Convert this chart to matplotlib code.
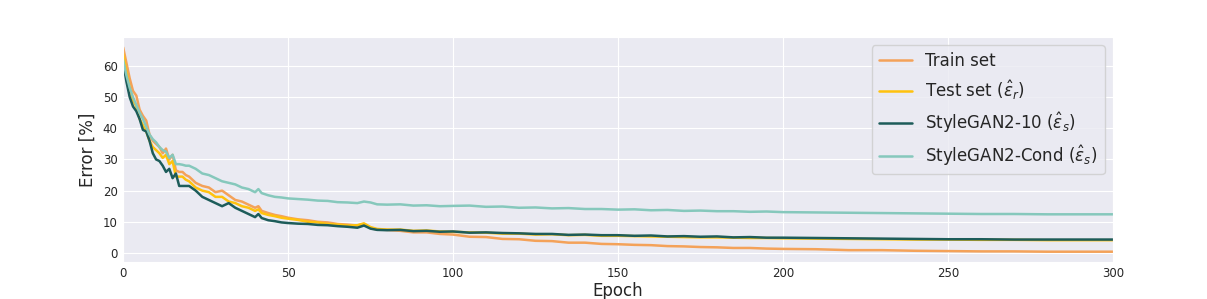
import matplotlib
matplotlib.use('Agg')
import matplotlib.pyplot as plt
import seaborn as sns

epochs = [0, 1, 2, 3, 4, 5, 6, 7, 8, 9, 10, 11, 12, 13, 14, 15, 16, 17, 18, 19, 20,
          22, 24, 26, 28, 30, 32, 34, 36, 38, 40, 41, 42, 44, 46, 48, 50,
          53, 56, 59, 62, 65, 68, 71, 73, 75, 77, 80,
          84, 88, 92, 96, 100,
          105, 110, 115, 120, 125, 130, 135, 140, 145, 150, 155, 160, 165, 170, 175,
          180, 185, 190, 195, 200,
          210, 220, 230, 240, 250, 260, 270, 280, 290, 300]

train_err = [66, 61, 56, 52, 50.5, 46, 44, 42.5, 38, 36, 35, 34, 32, 33.5, 30, 31.5, 26.5, 26, 26, 25, 24.5,
             22.5, 21.5, 21, 19.5, 20, 18.5, 17, 16.5, 15.5, 14.5, 15, 13.5, 12.8, 12.2, 11.8, 11.3,
             10.8, 10.5, 10, 9.8, 9.3, 9.1, 8.8, 9.3, 8, 7.5, 7.4,
             7.1, 6.6, 6.6, 6.1, 5.9,
             5.2, 5.1, 4.5, 4.4, 3.9, 3.8, 3.3, 3.3, 2.9, 2.8, 2.6, 2.5, 2.2, 2.1, 1.9,
             1.8, 1.6, 1.6, 1.4, 1.3,
             1.2, 0.9, 0.9, 0.7, 0.6, 0.5, 0.5, 0.4, 0.4, 0.4]

test_err = [64, 58, 53, 49, 47, 43, 41, 39, 36, 34, 33, 32, 30.5, 31.5, 28.5, 29.5, 24.5, 24.5, 24.5, 23.5, 23,
            21, 20, 19.5, 18, 18, 16.5, 16, 15, 14.5, 13.5, 14, 12.8, 12.2, 11.8, 11.3, 11.0,
            10.6, 10.0, 9.8, 9.3, 9.1, 8.8, 8.9, 9.5, 8.3, 7.7, 7.5,
            7.5, 7.1, 7.2, 6.9, 6.8,
            6.6, 6.5, 6.2, 6.2, 5.9, 6.0, 5.7, 5.8, 5.5, 5.5, 5.4, 5.3, 5.2, 5.1, 5.0,
            5.0, 4.9, 4.8, 4.8, 4.7,
            4.6, 4.5, 4.4, 4.3, 4.3, 4.2, 4.2, 4.1, 4.1, 4.1]

sg10_err = [61, 55, 50, 47, 45.5, 43, 39.5, 39, 36, 32, 30, 29.5, 28, 26, 27, 24, 25.5, 21.5, 21.5, 21.5, 21.5,
            20, 18, 17, 16, 15, 16, 14.5, 13.5, 12.5, 11.5, 12.5, 11.2, 10.5, 10.2, 9.8, 9.6,
            9.4, 9.3, 9.0, 8.9, 8.6, 8.4, 8.1, 8.8, 7.8, 7.4, 7.3,
            7.4, 7.0, 7.1, 6.8, 6.9,
            6.5, 6.6, 6.4, 6.3, 6.1, 6.1, 5.8, 5.9, 5.7, 5.7, 5.5, 5.6, 5.3, 5.4, 5.2,
            5.3, 5.0, 5.1, 4.9, 4.9,
            4.8, 4.7, 4.6, 4.5, 4.4, 4.4, 4.3, 4.3, 4.3, 4.3]

cond_err = [62, 57, 53, 50, 47.5, 45, 43, 40.5, 38, 36.5, 35.5, 34, 33, 32.5, 30.5, 31.5, 28.5, 28.5, 28.3, 28, 28,
            27, 25.5, 25, 24, 23, 22.5, 22, 21, 20.5, 19.5, 20.5, 19.2, 18.5, 18, 17.8, 17.5,
            17.3, 17.1, 16.8, 16.7, 16.3, 16.2, 16.0, 16.5, 16.2, 15.6, 15.5,
            15.6, 15.2, 15.3, 15.0, 15.1,
            15.2, 14.8, 14.9, 14.5, 14.6, 14.3, 14.4, 14.1, 14.1, 13.9, 14.0, 13.7, 13.8, 13.5, 13.6,
            13.4, 13.4, 13.2, 13.3, 13.1,
            13.0, 12.9, 12.8, 12.7, 12.6, 12.5, 12.5, 12.4, 12.4, 12.4]

labels = ['Train set',
          r'Test set ($\hat{\varepsilon}_r$)',
          r'StyleGAN2-10 ($\hat{\varepsilon}_s$)',
          r'StyleGAN2-Cond ($\hat{\varepsilon}_s$)']
colors = ['#f4a259', '#ffc20e', '#1d5c5a', '#86c8bc']

sns.set_style('darkgrid')

fig = plt.figure(figsize=(12.07, 2.99), dpi=100)
ax = fig.add_axes([0.102, 0.124, 0.820, 0.752])

series = [train_err, test_err, sg10_err, cond_err]
for vals, lab, col in zip(series, labels, colors):
    ax.plot(epochs, vals, color=col, label=lab, linewidth=1.8)

ax.set_xlim(0, 300)
ax.set_xticks([0, 50, 100, 150, 200, 250, 300])
ax.set_yticks([0, 10, 20, 30, 40, 50, 60])
ax.tick_params(labelsize=8.5, length=0, pad=4)
ax.set_xlabel('Epoch', fontsize=12, labelpad=1)
ax.set_ylabel('Error [%]', fontsize=12, labelpad=4)
ax.legend(loc='upper right', fontsize=12)

fig.savefig('out.png', dpi=100)
